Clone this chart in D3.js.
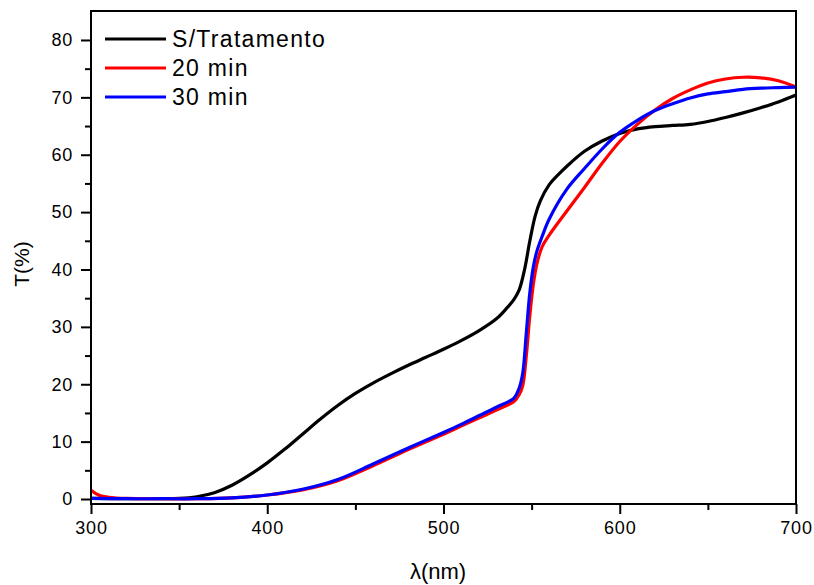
<!DOCTYPE html>
<html><head><meta charset="utf-8">
<script src="https://cdn.jsdelivr.net/npm/d3@7"></script>
<style>body{margin:0;background:#fff}svg{display:block}text{font-family:Arial,"Liberation Sans",sans-serif}</style>
</head><body><svg id="c" width="814" height="585"></svg>
<script>
const seriesNames = ["S/Tratamento", "20 min", "30 min"];
const seriesColors = ["#000000", "#ff0000", "#0000ff"];
const xTicks = [300, 400, 500, 600, 700];
const yTicks = [0, 10, 20, 30, 40, 50, 60, 70, 80];

const lambdaBlack = [300,320,340,350,360,370,380,390,400,410,420,430,440,450,460,470,480,490,500,510,520,530,536,540,543,546,549,552,555,560,565,570,580,590,600,610,620,630,640,650,660,670,680,690,700];
const tBlack =      [0.1,0.05,0.05,0.1,0.4,1.1,2.4,4.2,6.3,8.7,11.3,13.9,16.3,18.4,20.2,21.8,23.3,24.7,26.1,27.6,29.3,31.4,33.3,34.8,36.5,40.0,45.0,49.3,52.0,54.8,56.5,58.0,60.6,62.4,63.7,64.5,64.9,65.1,65.3,65.8,66.5,67.3,68.2,69.2,70.4];

const lambdaRed = [300,303,306,310,320,340,360,380,400,420,440,460,480,500,510,520,530,540,543,545,547,549,551,553,556,560,570,580,590,600,610,620,630,640,650,660,670,680,690,700];
const tRed =      [1.5,0.9,0.5,0.3,0.1,0.05,0.05,0.2,0.7,1.6,3.2,5.8,8.6,11.3,12.7,14.1,15.5,17.0,18.2,19.8,25,32,37.5,41,44,46.0,50.2,54.3,58.5,62.3,65.3,67.8,69.8,71.3,72.5,73.2,73.5,73.4,72.9,71.8];

const lambdaBlue = [300,320,340,360,380,400,420,440,460,480,500,510,520,530,540,543,545,547,549,551,553,556,560,570,580,590,600,610,620,630,640,650,660,670,680,690,700];
const tBlue =      [0.1,0.05,0.05,0.05,0.2,0.7,1.7,3.4,6.1,8.9,11.6,13.0,14.5,16.0,17.6,19.4,22,29,36,40.5,43.2,45.8,48.8,54.0,57.6,61.0,63.9,66.0,67.7,68.9,69.9,70.6,71.0,71.4,71.6,71.7,71.8];

const seriesData = [
  lambdaBlack.map((x,i)=>[x,tBlack[i]]),
  lambdaRed.map((x,i)=>[x,tRed[i]]),
  lambdaBlue.map((x,i)=>[x,tBlue[i]])
];

const svg = d3.select("#c");
const L=91, R=796, T=11, B=504;
const x = d3.scaleLinear().domain([300,700]).range([L,R]);
const y = d3.scaleLinear().domain([-0.87,85.05]).range([B,T]);

svg.append("clipPath").attr("id","clip").append("rect").attr("x",L).attr("y",T).attr("width",R-L).attr("height",B-T);
const line = d3.line().x(d=>x(d[0])).y(d=>y(d[1])).curve(d3.curveCatmullRom.alpha(0.5));
[0,1,2].forEach(i=>{
  svg.append("path").attr("d",line(seriesData[i])).attr("fill","none")
    .attr("stroke",seriesColors[i]).attr("stroke-width",3.2).attr("stroke-linejoin","round")
    .attr("clip-path","url(#clip)");
});

const xAxis = d3.axisBottom(x).tickValues(xTicks).tickSize(10).tickPadding(7).tickFormat(d3.format("d"));
const xMinor = d3.axisBottom(x).tickValues(d3.range(350,700,100)).tickSize(6).tickFormat("");
const yAxis = d3.axisLeft(y).tickValues(yTicks).tickSize(10).tickPadding(8).tickFormat(d3.format("d"));
const yMinor = d3.axisLeft(y).tickValues(d3.range(5,85,10)).tickSize(6).tickFormat("");

function style(g){
  g.select(".domain").remove();
  g.selectAll("line").attr("stroke","#000").attr("stroke-width",2);
  g.selectAll("text").attr("font-size",18).attr("fill","#000").style("letter-spacing","0.8px");
}
svg.append("g").attr("transform",`translate(0,${B})`).call(xMinor).call(style);
svg.append("g").attr("transform",`translate(0,${B})`).call(xAxis).call(style);
svg.append("g").attr("transform",`translate(${L},0)`).call(yMinor).call(style);
svg.append("g").attr("transform",`translate(${L},0)`).call(yAxis).call(style);

svg.append("rect").attr("x",L).attr("y",T).attr("width",R-L).attr("height",B-T)
  .attr("fill","none").attr("stroke","#000").attr("stroke-width",2);

svg.append("text").attr("x",438).attr("y",579).attr("text-anchor","middle")
  .attr("font-size",22).text("λ(nm)");
svg.append("text").attr("transform","translate(29,264) rotate(-90)").attr("text-anchor","middle")
  .attr("font-size",21).text("T(%)");

const lg = svg.append("g");
seriesNames.forEach((n,i)=>{
  const yy = 39 + i*29;
  lg.append("line").attr("x1",105).attr("x2",166).attr("y1",yy).attr("y2",yy)
    .attr("stroke",seriesColors[i]).attr("stroke-width",3.2);
  lg.append("text").attr("x",172).attr("y",yy+8).attr("font-size",23)
    .style("letter-spacing","1.3px").text(n);
});
</script></body></html>
